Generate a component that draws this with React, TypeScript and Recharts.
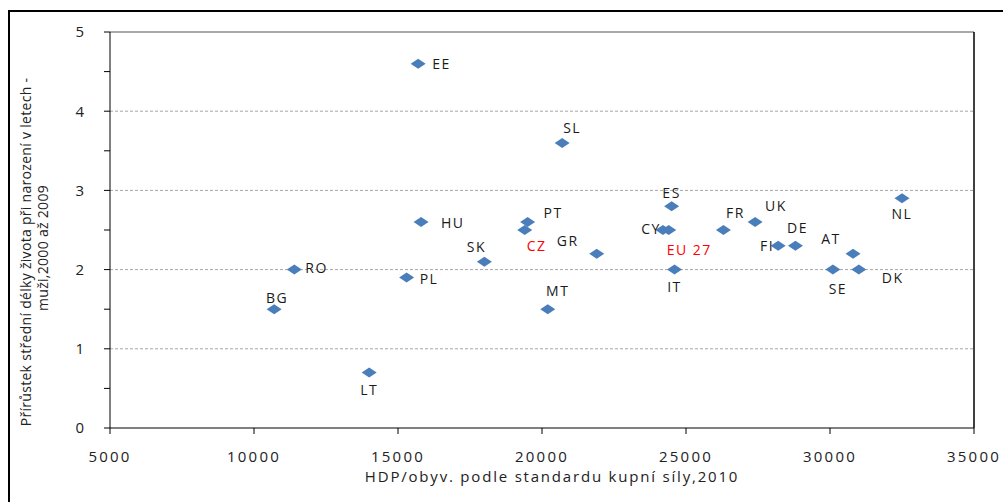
import { ScatterChart, Scatter, XAxis, YAxis, CartesianGrid, ReferenceLine } from 'recharts';

// země (kódy) a hodnoty
const codes = ['EE', 'SL', 'ES', 'NL', 'HU', 'PT', 'CZ', 'CY', 'EU 27', 'FR', 'UK', 'FI', 'DE', 'AT', 'SE', 'DK', 'IT', 'GR', 'SK', 'MT', 'RO', 'BG', 'PL', 'LT'];
const gdpPps = [15700, 20700, 24500, 32500, 15800, 19500, 19400, 24200, 24400, 26300, 27400, 28200, 28800, 30800, 30100, 31000, 24600, 21900, 18000, 20200, 11400, 10700, 15300, 14000];
const lifeGain = [4.6, 3.6, 2.8, 2.9, 2.6, 2.6, 2.5, 2.5, 2.5, 2.5, 2.6, 2.3, 2.3, 2.2, 2.0, 2.0, 2.0, 2.2, 2.1, 1.5, 2.0, 1.5, 1.9, 0.7];
const highlighted = ['CZ', 'EU 27'];

const xTicks = [5000, 10000, 15000, 20000, 25000, 30000, 35000];
const yTicks = [0, 0.5, 1, 1.5, 2, 2.5, 3, 3.5, 4, 4.5, 5];

const xTitle = 'HDP/obyv. podle standardu kupní síly,2010';
const yTitle = ['Přírůstek střední délky života při narození v letech -', 'muži,2000 až 2009'];

const data = codes.map((code, i) => ({ code, x: gdpPps[i], y: lifeGain[i] }));

// umístění popisků vůči bodu (jen vzhled)
const labelPlace: Record<string, [string, number, number]> = {
    EE: ['start', 14, 0],
    SL: ['start', 1, -15],
    ES: ['middle', 0, -14],
    NL: ['middle', 0, 15],
    HU: ['start', 20, 0],
    PT: ['start', 16, -10],
    CZ: ['start', 2, 15],
    GR: ['middle', -29, -13],
    CY: ['end', -2, -2],
    'EU 27': ['start', -2, 19],
    FR: ['middle', 12, -18],
    UK: ['start', 10, -17],
    FI: ['end', -4, 0],
    DE: ['middle', 2, -18],
    AT: ['middle', -22, -15],
    SE: ['middle', 5, 19],
    DK: ['start', 23, 8],
    IT: ['middle', 0, 17],
    SK: ['middle', -8, -15],
    MT: ['middle', 10, -19],
    RO: ['start', 11, -2],
    BG: ['middle', 3, -12],
    PL: ['start', 13, 1],
    LT: ['middle', 0, 17],
};

const FONT = '"Open Sans", "DejaVu Sans", sans-serif';

const Diamond = (props: any) => {
    const { cx, cy, payload } = props;
    if (cx == null || cy == null) return null;
    const place = labelPlace[payload.code] || ['start', 10, 0];
    const red = highlighted.includes(payload.code);
    return (
        <g>
            <polygon
                points={`${cx - 7.5},${cy} ${cx},${cy - 5} ${cx + 7.5},${cy} ${cx},${cy + 5}`}
                fill="#4a7ebb"
            />
            <text
                x={cx + place[1]}
                y={cy + place[2]}
                textAnchor={place[0] as any}
                dominantBaseline="central"
                fontSize={14}
                letterSpacing={1.5}
                fontFamily={FONT}
                fill={red ? '#ff0000' : '#1a1a1a'}
            >
                {payload.code}
            </text>
        </g>
    );
};

const YTitle = () => (
    <g fontFamily={FONT} fontSize={14} fill="#222" letterSpacing={0.3}>
        <text x={25} y={252} textAnchor="middle" dominantBaseline="central" transform="rotate(-90 25 252)">
            {yTitle[0]}
        </text>
        <text x={42} y={248} textAnchor="middle" dominantBaseline="central" transform="rotate(-90 42 248)">
            {yTitle[1]}
        </text>
    </g>
);

const XTitle = () => (
    <text
        x={552}
        y={476}
        textAnchor="middle"
        dominantBaseline="central"
        fill="#222"
        fontSize={15}
        fontFamily={FONT}
        letterSpacing={1.8}
    >
        {xTitle}
    </text>
);

export default function App() {
    return (
        <div style={{ position: 'fixed', left: 0, top: 0, width: 1003, height: 502, overflow: 'hidden', background: '#fff' }}>
            <div style={{ position: 'absolute', left: 8, top: 10, width: 1020, height: 520, border: '2px solid #000', boxSizing: 'border-box' }} />
            <div style={{ position: 'absolute', left: 0, top: 0 }}>
                <ScatterChart width={1003} height={502} margin={{ top: 32, right: 29, bottom: 44, left: 50 }}>
                    <CartesianGrid
                        horizontal
                        vertical={false}
                        horizontalValues={[1, 2, 3, 4]}
                        stroke="#a6a6a6"
                        strokeDasharray="3 2"
                    />
                    <XAxis
                        type="number"
                        dataKey="x"
                        domain={[5000, 35000]}
                        ticks={xTicks}
                        interval={0}
                        height={30}
                        tickSize={6}
                        tickMargin={17}
                        axisLine={{ stroke: '#000' }}
                        tickLine={{ stroke: '#000' }}
                        tick={{ fill: '#222', fontSize: 15, fontFamily: FONT, letterSpacing: 2.2 }}
                        label={{ content: () => <XTitle /> } as any}
                    />
                    <YAxis
                        type="number"
                        dataKey="y"
                        domain={[0, 5]}
                        ticks={yTicks}
                        interval={0}
                        width={60}
                        tickSize={6}
                        tickMargin={20}
                        axisLine={{ stroke: '#000' }}
                        tickLine={{ stroke: '#000' }}
                        tick={{ fill: '#222', fontSize: 15, fontFamily: FONT }}
                        tickFormatter={(v: number) => (Number.isInteger(v) ? String(v) : '')}
                        label={{ content: () => <YTitle /> } as any}
                    />
                    <ReferenceLine y={5} stroke="#8c8c8c" strokeWidth={1.5} />
                    <ReferenceLine x={35000} stroke="#000" strokeWidth={1.5} />
                    <Scatter data={data} shape={<Diamond />} isAnimationActive={false} />
                </ScatterChart>
            </div>
        </div>
    );
}
